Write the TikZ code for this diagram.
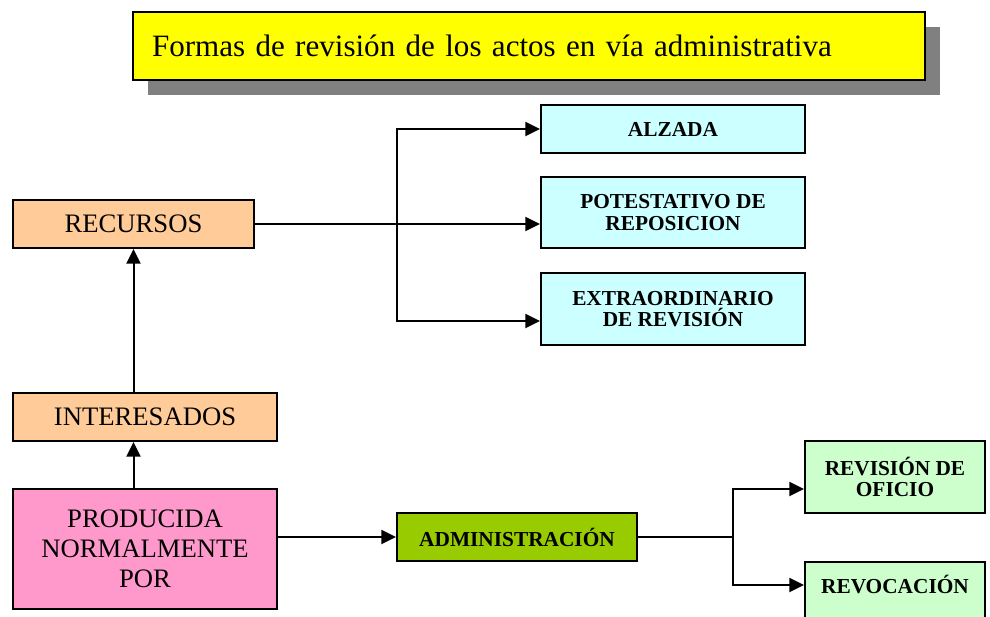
\documentclass[tikz,border=0pt]{standalone}
\usepackage{fontspec}
\setmainfont{Liberation Serif}
\usetikzlibrary{arrows.meta,shadows}
\definecolor{ttlyellow}{HTML}{FFFF00}
\definecolor{shadowgray}{HTML}{808080}
\definecolor{cyanbox}{HTML}{CCFFFF}
\definecolor{orangebox}{HTML}{FFCC99}
\definecolor{pinkbox}{HTML}{FF99CC}
\definecolor{greenbox}{HTML}{99CC00}
\definecolor{mintbox}{HTML}{CCFFCC}
\tikzset{
  box/.style={draw=black, line width=1.5pt, inner sep=0pt, align=center, text=black},
  normaltext/.style={font=\fontsize{20}{22.5}\selectfont},
  boldtext/.style={font=\fontsize{16}{16}\selectfont\bfseries},
  conn/.style={line width=1.5pt, draw=black},
  arr/.style={conn, -{Triangle[length=11pt,width=10.5pt]}},
}
\begin{document}
\begin{tikzpicture}[x=0.75pt,y=-0.75pt]
\useasboundingbox (0,0) rectangle (990,617);
% title
\node[box, fill=ttlyellow, minimum width=594pt, minimum height=51pt, text width=565.5pt, inner xsep=14.25pt, align=left,
      font=\fontsize{23.3}{26}\selectfont,
      drop shadow={shadow xshift=11.25pt, shadow yshift=-11.25pt, fill=shadowgray, opacity=1}]
  (title) at (529,46) {Formas de revisión de los actos en vía administrativa};
% recursos branch
\node[box, normaltext, fill=orangebox, minimum width=180.75pt, minimum height=36pt] (recursos) at (133.5,224) {RECURSOS};
\node[box, boldtext, fill=cyanbox, minimum width=198pt, minimum height=36pt] (alzada) at (673,129) {ALZADA};
\node[box, boldtext, fill=cyanbox, minimum width=198pt, minimum height=52.5pt] (potest) at (673,212.5) {POTESTATIVO DE\\REPOSICION};
\node[box, boldtext, fill=cyanbox, minimum width=198pt, minimum height=54pt] (extra) at (673,309) {EXTRAORDINARIO\\DE REVISIÓN};
\node[box, normaltext, fill=orangebox, minimum width=198pt, minimum height=36pt] (inter) at (145,417) {INTERESADOS};
\node[box, normaltext, fill=pinkbox, minimum width=198pt, minimum height=90pt] (prod) at (145,548.5) {PRODUCIDA\\NORMALMENTE\\POR};
\node[box, boldtext, fill=greenbox, minimum width=180pt, minimum height=36pt] (admin) at (517,537) {ADMINISTRACIÓN};
\node[box, boldtext, fill=mintbox, minimum width=135pt, minimum height=54pt] (oficio) at (895,477) {REVISIÓN DE\\OFICIO};
\node[box, boldtext, fill=mintbox, minimum width=135pt, anchor=north, text height=23.25pt, text depth=31pt] (revoc) at (895,561) {REVOCACIÓN};
% connectors
\coordinate (rb) at (397,224);
\coordinate (ab) at (733,537);
\coordinate (ofy) at (0,489);
\coordinate (rvy) at (0,585);
\coordinate (exy) at (0,321);
\draw[conn] (recursos.east) -- (rb);
\draw[arr] (recursos.east) -- (recursos.east -| potest.west);
\draw[arr] (rb) |- (alzada.west);
\draw[arr] (rb) |- (extra.west |- exy);
\draw[arr] (inter.north -| recursos.south) -- (recursos.south);
\draw[arr] (prod.north -| recursos.south) -- (inter.south -| recursos.south);
\draw[arr] (prod.east |- admin.west) -- (admin.west);
\draw[conn] (admin.east) -- (ab);
\draw[arr] (ab) |- (oficio.west |- ofy);
\draw[arr] (ab) |- (revoc.west |- rvy);
\end{tikzpicture}
\end{document}
